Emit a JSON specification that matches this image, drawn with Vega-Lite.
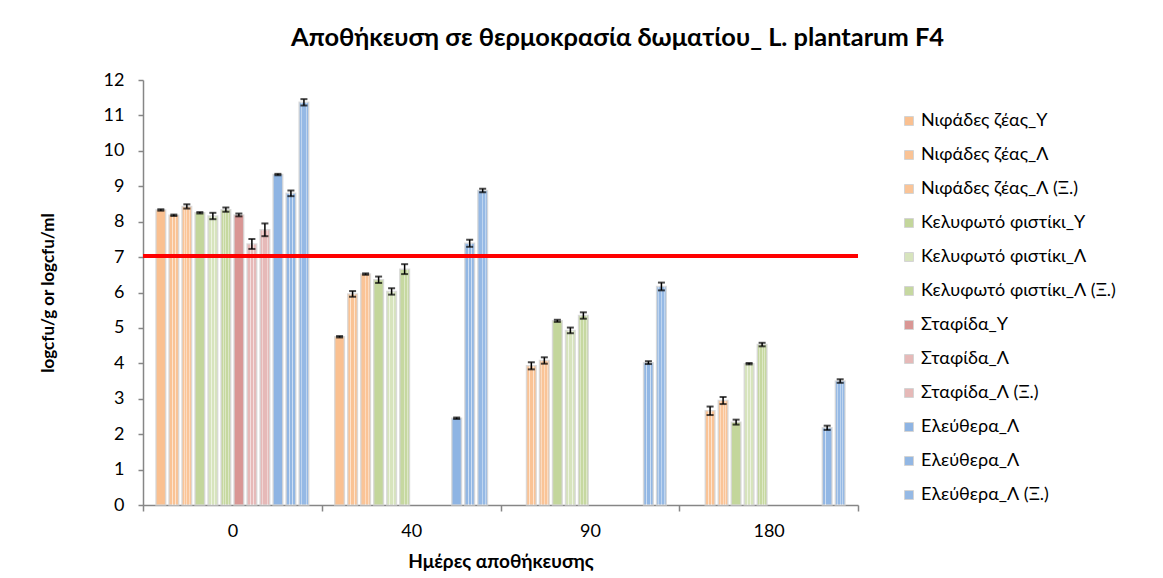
{
  "$schema": "https://vega.github.io/schema/vega-lite/v6.json",
  "autosize": {"type": "none"},
  "padding": {"left": 143, "top": 80, "right": 305, "bottom": 73},
  "width": 715,
  "height": 425,
  "background": "white",
  "title": {
    "text": "Αποθήκευση σε θερμοκρασία δωματίου_ L. plantarum F4",
    "font": "Lato",
    "fontSize": 25.4,
    "fontWeight": "bold",
    "color": "#000000",
    "anchor": "middle",
    "frame": "group",
    "dx": 117,
    "offset": 20
  },
  "data": {
    "values": [
      {"day": "0", "series": "01|Νιφάδες ζέας_Υ", "value": 8.33, "lo": 8.31, "hi": 8.35},
      {"day": "0", "series": "02|Νιφάδες ζέας_Λ", "value": 8.18, "lo": 8.16, "hi": 8.2},
      {"day": "0", "series": "03|Νιφάδες ζέας_Λ (Ξ.)", "value": 8.43, "lo": 8.37, "hi": 8.49},
      {"day": "0", "series": "04|Κελυφωτό φιστίκι_Υ", "value": 8.25, "lo": 8.23, "hi": 8.27},
      {"day": "0", "series": "05|Κελυφωτό φιστίκι_Λ", "value": 8.16, "lo": 8.07, "hi": 8.25},
      {"day": "0", "series": "06|Κελυφωτό φιστίκι_Λ (Ξ.)", "value": 8.34, "lo": 8.28, "hi": 8.4},
      {"day": "0", "series": "07|Σταφίδα_Υ", "value": 8.19, "lo": 8.15, "hi": 8.23},
      {"day": "0", "series": "08|Σταφίδα_Λ", "value": 7.37, "lo": 7.23, "hi": 7.51},
      {"day": "0", "series": "09|Σταφίδα_Λ (Ξ.)", "value": 7.77, "lo": 7.59, "hi": 7.95},
      {"day": "0", "series": "10|Ελεύθερα_Λ", "value": 9.33, "lo": 9.31, "hi": 9.35},
      {"day": "0", "series": "11|Ελεύθερα_Λ", "value": 8.8, "lo": 8.72, "hi": 8.88},
      {"day": "0", "series": "12|Ελεύθερα_Λ (Ξ.)", "value": 11.37, "lo": 11.28, "hi": 11.46},

      {"day": "40", "series": "01|Νιφάδες ζέας_Υ", "value": 4.75, "lo": 4.73, "hi": 4.77},
      {"day": "40", "series": "02|Νιφάδες ζέας_Λ", "value": 5.96, "lo": 5.88, "hi": 6.04},
      {"day": "40", "series": "03|Νιφάδες ζέας_Λ (Ξ.)", "value": 6.52, "lo": 6.5, "hi": 6.54},
      {"day": "40", "series": "04|Κελυφωτό φιστίκι_Υ", "value": 6.36, "lo": 6.27, "hi": 6.45},
      {"day": "40", "series": "05|Κελυφωτό φιστίκι_Λ", "value": 6.03, "lo": 5.94, "hi": 6.12},
      {"day": "40", "series": "06|Κελυφωτό φιστίκι_Λ (Ξ.)", "value": 6.66, "lo": 6.52, "hi": 6.8},
      {"day": "40", "series": "10|Ελεύθερα_Λ", "value": 2.45, "lo": 2.43, "hi": 2.47},
      {"day": "40", "series": "11|Ελεύθερα_Λ", "value": 7.39, "lo": 7.29, "hi": 7.49},
      {"day": "40", "series": "12|Ελεύθερα_Λ (Ξ.)", "value": 8.88, "lo": 8.83, "hi": 8.93},

      {"day": "90", "series": "02|Νιφάδες ζέας_Λ", "value": 3.93, "lo": 3.83, "hi": 4.03},
      {"day": "90", "series": "03|Νιφάδες ζέας_Λ (Ξ.)", "value": 4.08, "lo": 3.99, "hi": 4.17},
      {"day": "90", "series": "04|Κελυφωτό φιστίκι_Υ", "value": 5.2, "lo": 5.17, "hi": 5.23},
      {"day": "90", "series": "05|Κελυφωτό φιστίκι_Λ", "value": 4.93, "lo": 4.85, "hi": 5.01},
      {"day": "90", "series": "06|Κελυφωτό φιστίκι_Λ (Ξ.)", "value": 5.35, "lo": 5.26, "hi": 5.44},
      {"day": "90", "series": "11|Ελεύθερα_Λ", "value": 4.02, "lo": 3.98, "hi": 4.06},
      {"day": "90", "series": "12|Ελεύθερα_Λ (Ξ.)", "value": 6.17, "lo": 6.06, "hi": 6.28},

      {"day": "180", "series": "02|Νιφάδες ζέας_Λ", "value": 2.66, "lo": 2.54, "hi": 2.78},
      {"day": "180", "series": "03|Νιφάδες ζέας_Λ (Ξ.)", "value": 2.95, "lo": 2.85, "hi": 3.05},
      {"day": "180", "series": "04|Κελυφωτό φιστίκι_Υ", "value": 2.34, "lo": 2.27, "hi": 2.41},
      {"day": "180", "series": "05|Κελυφωτό φιστίκι_Λ", "value": 3.99, "lo": 3.97, "hi": 4.01},
      {"day": "180", "series": "06|Κελυφωτό φιστίκι_Λ (Ξ.)", "value": 4.53, "lo": 4.48, "hi": 4.58},
      {"day": "180", "series": "11|Ελεύθερα_Λ", "value": 2.18, "lo": 2.12, "hi": 2.24},
      {"day": "180", "series": "12|Ελεύθερα_Λ (Ξ.)", "value": 3.5, "lo": 3.45, "hi": 3.55}
    ]
  },
  "encoding": {
    "x": {
      "field": "day",
      "type": "nominal",
      "sort": ["0", "40", "90", "180"],
      "scale": {"paddingInner": 0, "paddingOuter": 0},
      "axis": {
        "title": "Ημέρες αποθήκευσης",
        "titleFont": "Lato",
        "titleFontSize": 19,
        "titleFontWeight": "bold",
        "titleColor": "#000000",
        "titlePadding": 12,
        "labelAngle": 0,
        "labelFont": "Lato",
        "labelFontSize": 18,
        "labelColor": "#000000",
        "labelPadding": 11,
        "tickBand": "extent",
        "tickSize": 6,
        "tickColor": "#868686",
        "tickWidth": 1.5,
        "domainColor": "#868686",
        "domainWidth": 1.5
      }
    },
    "xOffset": {
      "field": "series",
      "type": "nominal",
      "scale": {
        "domain": [
          "01|Νιφάδες ζέας_Υ", "02|Νιφάδες ζέας_Λ", "03|Νιφάδες ζέας_Λ (Ξ.)",
          "04|Κελυφωτό φιστίκι_Υ", "05|Κελυφωτό φιστίκι_Λ", "06|Κελυφωτό φιστίκι_Λ (Ξ.)",
          "07|Σταφίδα_Υ", "08|Σταφίδα_Λ", "09|Σταφίδα_Λ (Ξ.)",
          "10|Ελεύθερα_Λ", "11|Ελεύθερα_Λ", "12|Ελεύθερα_Λ (Ξ.)"
        ],
        "paddingInner": 0.26,
        "paddingOuter": 1.2
      }
    },
    "y": {
      "field": "value",
      "type": "quantitative",
      "scale": {"domain": [0, 12], "nice": false, "zero": true},
      "axis": {
        "title": "logcfu/g or logcfu/ml",
        "titleFont": "Lato",
        "titleFontSize": 17,
        "titleFontWeight": "bold",
        "titleColor": "#000000",
        "titlePadding": 46,
        "values": [0, 1, 2, 3, 4, 5, 6, 7, 8, 9, 10, 11, 12],
        "labelOverlap": false,
        "grid": false,
        "labelFont": "Lato",
        "labelFontSize": 18,
        "labelColor": "#000000",
        "labelPadding": 14,
        "tickSize": 5,
        "tickColor": "#868686",
        "tickWidth": 1.5,
        "domainColor": "#868686",
        "domainWidth": 1.5
      }
    }
  },
  "layer": [
    {
      "mark": {"type": "bar", "stroke": "#d4d4d4", "strokeWidth": 1.5, "strokeOpacity": 0.8},
      "encoding": {
        "color": {
          "field": "series",
          "type": "nominal",
          "scale": {
            "domain": [
              "01|Νιφάδες ζέας_Υ", "02|Νιφάδες ζέας_Λ", "03|Νιφάδες ζέας_Λ (Ξ.)",
              "04|Κελυφωτό φιστίκι_Υ", "05|Κελυφωτό φιστίκι_Λ", "06|Κελυφωτό φιστίκι_Λ (Ξ.)",
              "07|Σταφίδα_Υ", "08|Σταφίδα_Λ", "09|Σταφίδα_Λ (Ξ.)",
              "10|Ελεύθερα_Λ", "11|Ελεύθερα_Λ", "12|Ελεύθερα_Λ (Ξ.)"
            ],
            "range": [
              "#FAC090", "#FAC395", "#FAC497",
              "#C3D69B", "#D7E4BD", "#C6D8A0",
              "#D99694", "#E6B9B8", "#E6B9B8",
              "#8EB4E3", "#92B7E4", "#95B9E5"
            ]
          },
          "legend": {
            "title": null,
            "orient": "none",
            "legendX": 757,
            "legendY": 32,
            "direction": "vertical",
            "labelExpr": "split(datum.label, '|')[1]",
            "labelFont": "Lato",
            "labelFontSize": 18,
            "labelColor": "#000000",
            "labelOffset": 3,
            "labelLimit": 300,
            "symbolType": "square",
            "symbolSize": 80,
            "symbolStrokeColor": "#d4d4d4",
            "symbolStrokeWidth": 1,
            "rowPadding": 16
          }
        }
      }
    },
    {
      "transform": [
        {"filter": {"field": "series", "oneOf": ["02|Νιφάδες ζέας_Λ", "05|Κελυφωτό φιστίκι_Λ", "08|Σταφίδα_Λ", "11|Ελεύθερα_Λ"]}}
      ],
      "mark": {
        "type": "bar",
        "fillOpacity": 0.55,
        "fill": {
          "gradient": "linear",
          "x1": 0, "x2": 1, "y1": 0, "y2": 0,
          "stops": [
            {"offset": 0, "color": "rgba(255,255,255,0)"},
            {"offset": 0.28, "color": "rgba(255,255,255,0)"},
            {"offset": 0.28, "color": "#ffffff"},
            {"offset": 0.38, "color": "#ffffff"},
            {"offset": 0.38, "color": "rgba(255,255,255,0)"},
            {"offset": 0.64, "color": "rgba(255,255,255,0)"},
            {"offset": 0.64, "color": "#ffffff"},
            {"offset": 0.74, "color": "#ffffff"},
            {"offset": 0.74, "color": "rgba(255,255,255,0)"},
            {"offset": 1, "color": "rgba(255,255,255,0)"}
          ]
        }
      }
    },
    {
      "transform": [
        {"filter": {"field": "series", "oneOf": ["03|Νιφάδες ζέας_Λ (Ξ.)", "06|Κελυφωτό φιστίκι_Λ (Ξ.)", "09|Σταφίδα_Λ (Ξ.)", "12|Ελεύθερα_Λ (Ξ.)"]}}
      ],
      "mark": {
        "type": "bar",
        "fillOpacity": 0.4,
        "fill": {
          "gradient": "linear",
          "x1": 0, "x2": 1, "y1": 0, "y2": 0,
          "stops": [
            {"offset": 0, "color": "rgba(255,255,255,0)"},
            {"offset": 0.18, "color": "rgba(255,255,255,0)"},
            {"offset": 0.18, "color": "#ffffff"},
            {"offset": 0.27, "color": "#ffffff"},
            {"offset": 0.27, "color": "rgba(255,255,255,0)"},
            {"offset": 0.46, "color": "rgba(255,255,255,0)"},
            {"offset": 0.46, "color": "#ffffff"},
            {"offset": 0.55, "color": "#ffffff"},
            {"offset": 0.55, "color": "rgba(255,255,255,0)"},
            {"offset": 0.74, "color": "rgba(255,255,255,0)"},
            {"offset": 0.74, "color": "#ffffff"},
            {"offset": 0.83, "color": "#ffffff"},
            {"offset": 0.83, "color": "rgba(255,255,255,0)"},
            {"offset": 1, "color": "rgba(255,255,255,0)"}
          ]
        }
      }
    },
    {
      "mark": {"type": "rule", "color": "#000000", "strokeWidth": 1.5},
      "encoding": {
        "y": {"field": "lo", "type": "quantitative"},
        "y2": {"field": "hi"}
      }
    },
    {
      "mark": {"type": "tick", "color": "#000000", "size": 7, "thickness": 2, "orient": "horizontal"},
      "encoding": {
        "y": {"field": "lo", "type": "quantitative"}
      }
    },
    {
      "mark": {"type": "tick", "color": "#000000", "size": 7, "thickness": 2, "orient": "horizontal"},
      "encoding": {
        "y": {"field": "hi", "type": "quantitative"}
      }
    },
    {
      "mark": {"type": "rule", "color": "#FF0000", "strokeWidth": 3},
      "encoding": {
        "y": {"datum": 7.03, "type": "quantitative"},
        "x": null,
        "xOffset": null
      }
    }
  ],
  "config": {
    "view": {"stroke": null},
    "font": "Lato"
  }
}
